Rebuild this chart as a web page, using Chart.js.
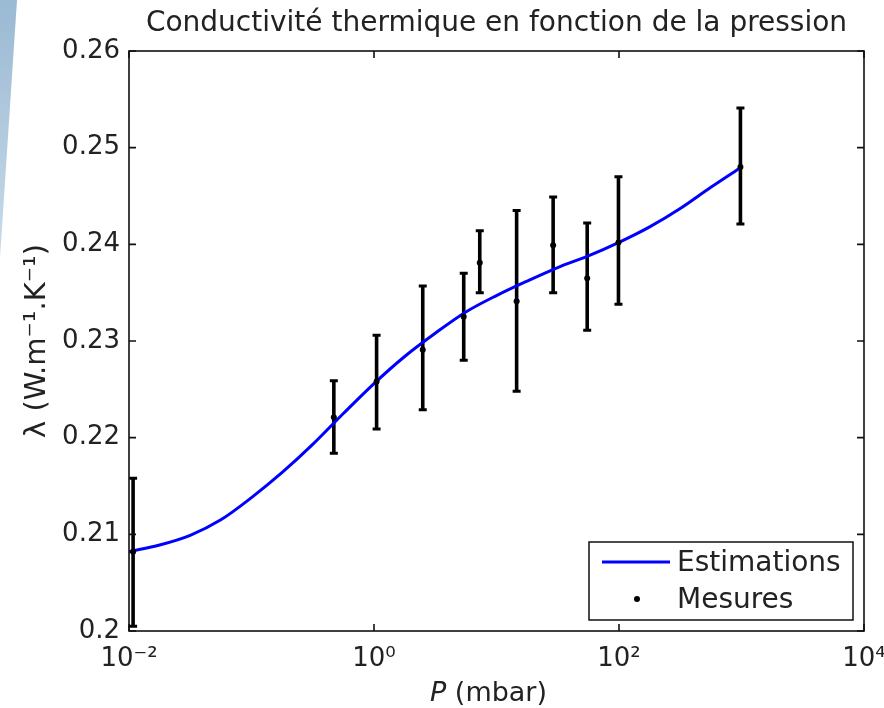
<!DOCTYPE html>
<html>
<head>
<meta charset="utf-8">
<script src="https://cdn.jsdelivr.net/npm/chart.js@4.4.0/dist/chart.umd.min.js"></script>
<style>
  html, body { margin: 0; padding: 0; background: #fff; }
  #wrap { position: relative; width: 884px; height: 708px; overflow: hidden; }
  #sliver { position: absolute; left: 0; top: 0; width: 18px; height: 260px;
            background: linear-gradient(180deg, #9ab9d3, #c9dbe9);
            clip-path: polygon(0 0, 17px 0, 0 258px); }
  #chart { position: absolute; left: 0; top: 0; }
</style>
</head>
<body>
<div id="wrap">
  <div id="sliver"></div>
  <canvas id="chart" width="884" height="708"></canvas>
</div>
<script>
// donnees
const titleText = 'Conductivité thermique en fonction de la pression';

// courbe d'estimation
const estPressure = [0.01, 0.0178, 0.0316, 0.0562, 0.1, 0.178, 0.316, 0.562, 1, 1.78, 3.16,
                     5.62, 10, 17.8, 31.6, 56.2, 100, 178, 316, 562, 1000];
const estLambda = [0.2082, 0.2089, 0.2099, 0.2115, 0.2138, 0.2164, 0.2193, 0.2225, 0.2256, 0.2284, 0.2308,
                   0.2330, 0.2347, 0.2362, 0.2376, 0.2388, 0.2402, 0.2418, 0.2437, 0.2459, 0.2480];

// mesures + barres d'erreur
const mesPressure = [0.0108, 0.47, 1.05, 2.5, 5.4, 7.3, 14.6, 29, 55, 99, 980];
const mesLambda = [0.2082, 0.2221, 0.2258, 0.2291, 0.2325, 0.2381, 0.2341, 0.2399, 0.2365, 0.2402, 0.2480];
const mesLow    = [0.2005, 0.2184, 0.2209, 0.2229, 0.2280, 0.2350, 0.2248, 0.2350, 0.2311, 0.2338, 0.2421];
const mesHigh   = [0.2158, 0.2259, 0.2306, 0.2357, 0.2370, 0.2414, 0.2435, 0.2449, 0.2422, 0.2470, 0.2541];

const xTickValues = [0.01, 1, 100, 10000];
const xTickLabels = ['10⁻²', '10⁰', '10²', '10⁴'];
const yTickValues = [0.2, 0.21, 0.22, 0.23, 0.24, 0.25, 0.26];
const yTickLabels = ['0.2', '0.21', '0.22', '0.23', '0.24', '0.25', '0.26'];

const FONT = 'DejaVu Sans';
const TXT = '#222';

const errorBars = {
    id: 'errorBars',
    beforeDatasetsDraw(chart) {
        const {ctx, scales: {x, y}} = chart;
        ctx.save();
        ctx.strokeStyle = '#000';
        mesPressure.forEach(function(p, i) {
            const px = x.getPixelForValue(p);
            const lo = y.getPixelForValue(mesLow[i]);
            const hi = y.getPixelForValue(mesHigh[i]);
            ctx.lineWidth = 3.6;
            ctx.beginPath();
            ctx.moveTo(px, lo); ctx.lineTo(px, hi);
            ctx.stroke();
            ctx.lineWidth = 3;
            ctx.beginPath();
            ctx.moveTo(px - 4, lo); ctx.lineTo(px + 4, lo);
            ctx.moveTo(px - 4, hi); ctx.lineTo(px + 4, hi);
            ctx.stroke();
        });
        ctx.restore();
    }
};

// cadre + graduations vers l'interieur (style matlab)
const frame = {
    id: 'frame',
    afterDatasetsDraw(chart) {
        const {ctx, chartArea: a, scales: {x, y}} = chart;
        ctx.save();
        ctx.strokeStyle = '#111';
        ctx.lineWidth = 1.6;
        ctx.strokeRect(a.left, a.top, a.right - a.left, a.bottom - a.top);
        ctx.beginPath();
        xTickValues.forEach(function(v) {
            const px = x.getPixelForValue(v);
            ctx.moveTo(px, a.bottom); ctx.lineTo(px, a.bottom - 7);
            ctx.moveTo(px, a.top); ctx.lineTo(px, a.top + 7);
        });
        yTickValues.forEach(function(v) {
            const py = y.getPixelForValue(v);
            ctx.moveTo(a.left, py); ctx.lineTo(a.left + 7, py);
            ctx.moveTo(a.right, py); ctx.lineTo(a.right - 7, py);
        });
        ctx.stroke();

        // titre de l'axe x : P en italique
        const sz = 27;
        ctx.fillStyle = TXT;
        ctx.textBaseline = 'middle';
        ctx.font = 'italic ' + sz + 'px "' + FONT + '"';
        const wP = ctx.measureText('P').width;
        ctx.font = sz + 'px "' + FONT + '"';
        const wRest = ctx.measureText(' (mbar)').width;
        const cx = (a.left + a.right) / 2 - 8;
        const x0 = cx - (wP + wRest) / 2;
        ctx.font = 'italic ' + sz + 'px "' + FONT + '"';
        ctx.fillText('P', x0, 694);
        ctx.font = sz + 'px "' + FONT + '"';
        ctx.fillText(' (mbar)', x0 + wP, 694);
        ctx.restore();
    }
};

const legendBox = {
    id: 'legendBox',
    afterDraw(chart) {
        const {ctx, chartArea: a} = chart;
        const w = 264, h = 78;
        const bx = a.right - 11 - w, by = a.bottom - 11 - h;
        ctx.save();
        ctx.fillStyle = '#fff';
        ctx.fillRect(bx, by, w, h);
        ctx.strokeStyle = '#111';
        ctx.lineWidth = 1.5;
        ctx.strokeRect(bx, by, w, h);
        ctx.strokeStyle = '#0000ff';
        ctx.lineWidth = 3;
        ctx.beginPath();
        ctx.moveTo(bx + 13, by + 20); ctx.lineTo(bx + 81, by + 20);
        ctx.stroke();
        ctx.fillStyle = '#000';
        ctx.beginPath();
        ctx.arc(bx + 48, by + 57, 3, 0, Math.PI * 2);
        ctx.fill();
        ctx.fillStyle = TXT;
        ctx.font = '28px "' + FONT + '"';
        ctx.textBaseline = 'middle';
        ctx.fillText(chart.data.datasets[1].label, bx + 88, by + 22);
        ctx.fillText(chart.data.datasets[0].label, bx + 88, by + 59);
        ctx.restore();
    }
};

new Chart(document.getElementById('chart'), {
    type: 'scatter',
    data: {
        datasets: [{
            label: 'Mesures',
            data: mesPressure.map(function(p, i) { return {x: p, y: mesLambda[i]}; }),
            showLine: false,
            pointRadius: 3,
            pointBackgroundColor: '#000',
            pointBorderWidth: 0
        }, {
            label: 'Estimations',
            data: estPressure.map(function(p, i) { return {x: p, y: estLambda[i]}; }),
            showLine: true,
            borderColor: '#0000ff',
            borderWidth: 3,
            pointRadius: 0,
            cubicInterpolationMode: 'monotone'
        }]
    },
    options: {
        responsive: false,
        animation: false,
        layout: {padding: {left: 0, right: 20, top: 0, bottom: 0}},
        plugins: {
            legend: {display: false},
            tooltip: {enabled: false},
            title: {
                display: true,
                text: titleText,
                fullSize: false,
                color: TXT,
                font: {family: FONT, size: 28, weight: 'normal'},
                padding: {top: 7, bottom: 10.4}
            }
        },
        scales: {
            x: {
                type: 'logarithmic',
                min: 0.01,
                max: 10000,
                afterBuildTicks: function(s) { s.ticks = xTickValues.map(function(v) { return {value: v}; }); },
                afterFit: function(s) { s.height = 77; s.paddingLeft = 0; s.paddingRight = 0; },
                grid: {display: false, drawTicks: false},
                border: {display: false},
                ticks: {
                    autoSkip: false,
                    maxRotation: 0,
                    padding: 13,
                    color: TXT,
                    font: {family: FONT, size: 26},
                    callback: function(v, i) { return xTickLabels[i]; }
                },
                title: {display: false}
            },
            y: {
                min: 0.2,
                max: 0.26,
                afterBuildTicks: function(s) { s.ticks = yTickValues.map(function(v) { return {value: v}; }); },
                afterFit: function(s) { s.width = 129; s.paddingTop = 0; s.paddingBottom = 0; },
                grid: {display: false, drawTicks: false},
                border: {display: false},
                ticks: {
                    padding: 9,
                    color: TXT,
                    font: {family: FONT, size: 26},
                    callback: function(v, i) { return yTickLabels[i]; }
                },
                title: {
                    display: true,
                    text: 'λ (W.m⁻¹.K⁻¹)',
                    color: TXT,
                    font: {family: FONT, size: 29},
                    padding: {top: 20, bottom: 0}
                }
            }
        }
    },
    plugins: [errorBars, frame, legendBox]
});
</script>
</body>
</html>
